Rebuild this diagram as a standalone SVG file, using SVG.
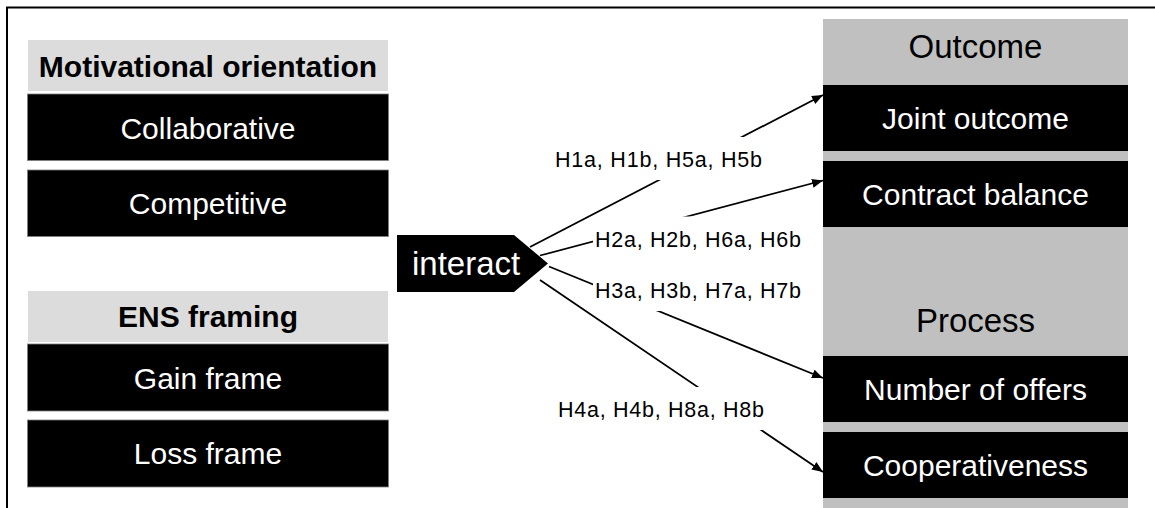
<svg xmlns="http://www.w3.org/2000/svg" width="1155" height="508" viewBox="0 0 1155 508">
  <style>
    .hdr { fill: #dcdcdc; }
    .col { fill: #c0c0c0; }
    .box { fill: #000000; stroke: #7f7f7f; stroke-width: 0.8; }
    .rbox { fill: #000000; }
    .t { font-family: "Liberation Sans", Arial, sans-serif; text-anchor: middle; }
    .wt { fill: #ffffff; font-size: 30px; }
    .bt { fill: #000000; font-size: 30px; font-weight: bold; }
    .gt { fill: #000000; font-size: 33px; }
    .lbl { font-family: "Liberation Sans", Arial, sans-serif; font-size: 21.5px; fill: #000000; }
    .lblbg { fill: #ffffff; }
    .edge { stroke: #000000; stroke-width: 1.8; fill: none; marker-end: url(#arrow); }
    .frame { stroke: #000000; stroke-width: 2; fill: none; }
  </style>
  <defs>
    <marker id="arrow" markerUnits="userSpaceOnUse" markerWidth="12" markerHeight="10" refX="11" refY="4.5" orient="auto">
      <path d="M0,0 L11,4.5 L0,9 z" fill="#000000"/>
    </marker>
  </defs>

  <rect width="1155" height="508" fill="#ffffff"/>

  <!-- outer frame (top and left edges) -->
  <path class="frame" d="M7,508 L7,7.5 L1155,7.5"/>

  <!-- left column: motivational orientation -->
  <g id="motivational-orientation">
    <rect class="hdr" x="28" y="40" width="360" height="51"/>
    <text class="t bt" x="208" y="77">Motivational orientation</text>
  </g>
  <g id="collaborative">
    <rect class="box" x="27.5" y="94" width="361" height="66.5"/>
    <text class="t wt" x="208" y="139">Collaborative</text>
  </g>
  <g id="competitive">
    <rect class="box" x="27.5" y="170" width="361" height="66.5"/>
    <text class="t wt" x="208" y="214">Competitive</text>
  </g>

  <!-- left column: ENS framing -->
  <g id="ens-framing">
    <rect class="hdr" x="28" y="291" width="360" height="51"/>
    <text class="t bt" x="208" y="327">ENS framing</text>
  </g>
  <g id="gain-frame">
    <rect class="box" x="27.5" y="344" width="361" height="67"/>
    <text class="t wt" x="208" y="388.5">Gain frame</text>
  </g>
  <g id="loss-frame">
    <rect class="box" x="27.5" y="420" width="361" height="67"/>
    <text class="t wt" x="208" y="464">Loss frame</text>
  </g>

  <!-- interaction node -->
  <g id="interact">
    <polygon points="397,235 514,235 548,263.5 514,292 397,292" fill="#000000"/>
    <text x="412" y="275" font-family="Liberation Sans, Arial, sans-serif" font-size="33" fill="#ffffff">interact</text>
  </g>

  <!-- right column background -->
  <rect class="col" x="823" y="19" width="305" height="489"/>

  <g id="outcome">
    <text class="t gt" x="975.5" y="58">Outcome</text>
  </g>
  <g id="joint-outcome">
    <rect class="rbox" x="823" y="85" width="305" height="66"/>
    <text class="t wt" x="975.5" y="129">Joint outcome</text>
  </g>
  <g id="contract-balance">
    <rect class="rbox" x="823" y="161" width="305" height="66"/>
    <text class="t wt" x="975.5" y="205">Contract balance</text>
  </g>
  <g id="process">
    <text class="t gt" x="975.5" y="331.5">Process</text>
  </g>
  <g id="number-of-offers">
    <rect class="rbox" x="823" y="356" width="305" height="66"/>
    <text class="t wt" x="975.5" y="400">Number of offers</text>
  </g>
  <g id="cooperativeness">
    <rect class="rbox" x="823" y="432" width="305" height="66"/>
    <text class="t wt" x="975.5" y="476">Cooperativeness</text>
  </g>

  <!-- connectors with hypothesis labels -->
  <g id="connectors">
    <line class="edge" x1="530" y1="247" x2="823" y2="95"/>
    <line class="edge" x1="540" y1="255.5" x2="823" y2="180.5"/>
    <line class="edge" x1="549" y1="266.5" x2="823" y2="378"/>
    <line class="edge" x1="540" y1="280" x2="823" y2="472"/>

    <rect class="lblbg" x="553" y="137" width="211" height="43"/>
    <text class="lbl" x="555" y="167" textLength="207" lengthAdjust="spacing">H1a, H1b, H5a, H5b</text>

    <rect class="lblbg" x="593" y="216.5" width="211" height="43"/>
    <text class="lbl" x="595" y="246.5" textLength="206" lengthAdjust="spacing">H2a, H2b, H6a, H6b</text>

    <rect class="lblbg" x="593" y="268" width="211" height="43"/>
    <text class="lbl" x="595" y="298" textLength="206" lengthAdjust="spacing">H3a, H3b, H7a, H7b</text>

    <rect class="lblbg" x="556" y="387" width="211" height="43"/>
    <text class="lbl" x="558" y="417" textLength="206" lengthAdjust="spacing">H4a, H4b, H8a, H8b</text>
  </g>
</svg>
